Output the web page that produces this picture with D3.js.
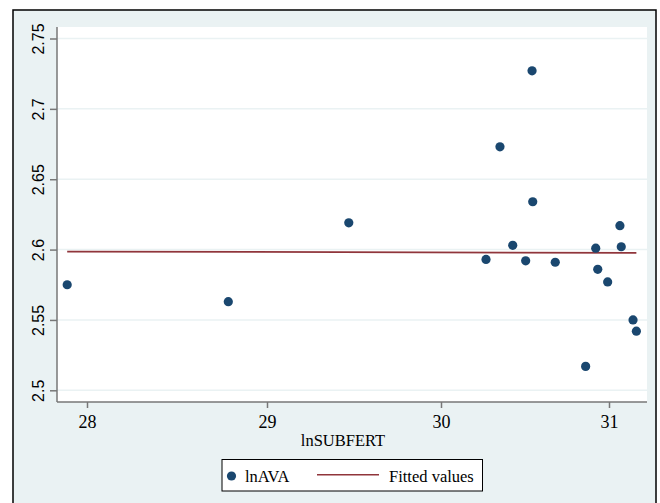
<!DOCTYPE html>
<html>
<head>
<meta charset="utf-8">
<script src="https://cdn.jsdelivr.net/npm/d3@7"></script>
<style>
  body { margin: 0; background: #fff; }
  svg text { font-family: "Liberation Serif", "Times New Roman", serif; fill: #000; }
</style>
</head>
<body>
<div class="chart"></div>
<script>
//Data
var lnSUBFERT = [27.89, 28.785, 29.47, 30.268, 30.351, 30.427, 30.504, 30.542, 30.546,
    30.680, 30.861, 30.921, 30.933, 30.992, 31.065, 31.073, 31.143, 31.163];
var lnAVA = [2.575, 2.563, 2.619, 2.593, 2.673, 2.603, 2.592, 2.727, 2.634,
    2.591, 2.517, 2.601, 2.586, 2.577, 2.617, 2.602, 2.550, 2.542];
var fitX = [27.89, 31.163];
var fitY = [2.5986, 2.5977];
var xTicks = [28, 29, 30, 31];
var yTicks = [2.5, 2.55, 2.6, 2.65, 2.7, 2.75];
var legendLabels = ["lnAVA", "Fitted values"];

//Width and height
var w = 660;
var h = 503;
var navy = "#1a476f";
var red = "#90353b";
var bg = "#eaf2f3";

var svg = d3.select(".chart")
    .append("svg")
    .attr("width", w)
    .attr("height", h);

//Outer graph region
svg.append("rect")
    .attr("x", 13).attr("y", 10)
    .attr("width", 643).attr("height", 510)
    .attr("fill", bg)
    .attr("stroke", "#000")
    .attr("stroke-width", 1.5);

//Plot region
svg.append("rect")
    .attr("x", 57).attr("y", 27)
    .attr("width", 590).attr("height", 375)
    .attr("fill", "#fff");

//Scales (tick spacing in the picture is slightly uneven)
var xScale = d3.scaleLinear()
    .domain(xTicks)
    .range([87, 267, 441, 609]);

var yScale = d3.scaleLinear()
    .domain([2.5, 2.75])
    .range([390.3, 38.5]);

//Grid lines
svg.append("g")
    .selectAll("line")
    .data(yTicks)
    .enter()
    .append("line")
    .attr("x1", 57)
    .attr("x2", 647)
    .attr("y1", d => yScale(d))
    .attr("y2", d => yScale(d))
    .attr("stroke", bg)
    .attr("stroke-width", 1.5);

//Axes
var xAxis = d3.axisBottom(xScale)
    .tickValues(xTicks)
    .tickSize(6)
    .tickPadding(7)
    .tickSizeOuter(0)
    .tickFormat(d3.format("d"));
var gx = svg.append("g")
    .attr("transform", "translate(0, 402)")
    .call(xAxis);
gx.select(".domain").attr("d", "M57,0H647").attr("stroke", "#777").attr("stroke-width", 1.5);
gx.selectAll(".tick line").attr("stroke", "#777").attr("stroke-width", 1.5);
gx.selectAll(".tick text").style("font-size", "18px");

var yAxis = d3.axisLeft(yScale)
    .tickValues(yTicks)
    .tickSize(7)
    .tickSizeOuter(0)
    .tickFormat(d => d3.format("")(d));
var gy = svg.append("g")
    .attr("transform", "translate(57, 0)")
    .call(yAxis);
gy.select(".domain").attr("d", "M0,27V402").attr("stroke", "#777").attr("stroke-width", 1.5);
gy.selectAll(".tick line").attr("stroke", "#777").attr("stroke-width", 1.5);
gy.selectAll(".tick text")
    .attr("x", 0).attr("dy", 0)
    .attr("transform", "translate(-13, 0) rotate(-90)")
    .attr("text-anchor", "middle")
    .style("font-family", "'Liberation Sans', Arial, sans-serif")
    .style("font-size", "16px");

//Axis title
svg.append("text")
    .attr("x", 343)
    .attr("y", 446)
    .attr("text-anchor", "middle")
    .style("font-size", "16.5px")
    .text("lnSUBFERT");

//Fitted line
var fitLine = d3.line()
    .x(d => xScale(d[0]))
    .y(d => yScale(d[1]));
svg.append("path")
    .datum(d3.zip(fitX, fitY))
    .attr("d", fitLine)
    .attr("fill", "none")
    .attr("stroke", red)
    .attr("stroke-width", 1.8);

//Scatter points
svg.selectAll(".dot")
    .data(d3.zip(lnSUBFERT, lnAVA))
    .enter()
    .append("circle")
    .attr("class", "dot")
    .attr("cx", d => xScale(d[0]))
    .attr("cy", d => yScale(d[1]))
    .attr("r", 4.6)
    .attr("fill", navy);

//Legend
var legend = svg.append("g");
legend.append("rect")
    .attr("x", 222).attr("y", 459.5)
    .attr("width", 260.5).attr("height", 31.5)
    .attr("fill", "#fff")
    .attr("stroke", "#000")
    .attr("stroke-width", 1);
legend.append("circle")
    .attr("cx", 231.5).attr("cy", 476)
    .attr("r", 4.6)
    .attr("fill", navy);
legend.append("text")
    .attr("x", 245).attr("y", 481.5)
    .style("font-size", "16.5px")
    .text(legendLabels[0]);
legend.append("line")
    .attr("x1", 317).attr("x2", 379)
    .attr("y1", 474.7).attr("y2", 474.7)
    .attr("stroke", red)
    .attr("stroke-width", 1.5);
legend.append("text")
    .attr("x", 389).attr("y", 481.5)
    .style("font-size", "16.5px")
    .text(legendLabels[1]);
</script>
</body>
</html>
